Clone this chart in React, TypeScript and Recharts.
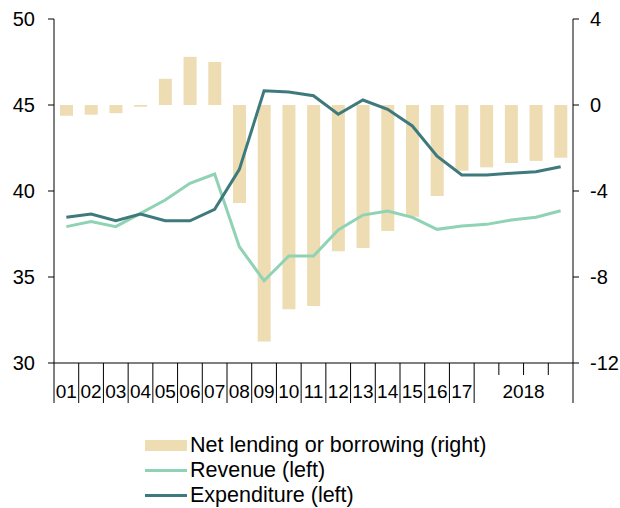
import React from 'react';
import { ComposedChart, Bar, Line, XAxis, YAxis, Legend } from 'recharts';

// periods: 2001..2017, then the four quarters of 2018
const periods = [
  '01', '02', '03', '04', '05', '06', '07', '08', '09', '10', '11',
  '12', '13', '14', '15', '16', '17', '18Q1', '18Q2', '18Q3', '18Q4',
];

const netLending = [
  -0.5, -0.45, -0.38, -0.08, 1.22, 2.24, 2.0, -4.56, -11.0, -9.5, -9.35,
  -6.8, -6.65, -5.86, -5.2, -4.23, -3.06, -2.9, -2.7, -2.6, -2.45,
];

const revenue = [
  37.93, 38.22, 37.93, 38.7, 39.48, 40.45, 40.99, 36.76, 34.78, 36.22, 36.22,
  37.73, 38.6, 38.84, 38.47, 37.77, 37.97, 38.06, 38.31, 38.47, 38.85,
];

const expenditure = [
  38.47, 38.66, 38.27, 38.66, 38.27, 38.27, 38.93, 41.26, 45.83, 45.76, 45.54,
  44.46, 45.29, 44.75, 43.78, 42.03, 40.93, 40.93, 41.03, 41.12, 41.41,
];

const leftTicks = [30, 35, 40, 45, 50];
const rightTicks = [-12, -8, -4, 0, 4];

const seriesNames = ['Net lending or borrowing (right)', 'Revenue (left)', 'Expenditure (left)'];

const data = periods.map((p, i) => ({
  period: p,
  net: netLending[i],
  revenue: revenue[i],
  expenditure: expenditure[i],
}));

const BAR_COLOR = '#eedcb3';
const REV_COLOR = '#8fd3b4';
const EXP_COLOR = '#3e7a7d';
const FONT = '"Liberation Sans", Arial, sans-serif';

const PLOT_LEFT = 54;
const PLOT_RIGHT = 573;
const BAND = (PLOT_RIGHT - PLOT_LEFT) / periods.length;

function PeriodTick(props: any) {
  const { x, y, index } = props;
  const left = x - BAND / 2;
  const right = x + BAND / 2;
  const yearly = index < 17;
  return (
    <g>
      {index <= 17 ? (
        <line x1={left} x2={left} y1={y} y2={y + 40} stroke="#000" strokeWidth={1} />
      ) : (
        <line x1={left} x2={left} y1={y} y2={y + 12} stroke="#000" strokeWidth={1} />
      )}
      {index === periods.length - 1 && (
        <line x1={right} x2={right} y1={y} y2={y + 40} stroke="#000" strokeWidth={1} />
      )}
      {yearly && (
        <text x={x} y={y + 35} textAnchor="middle" fontSize={19} fontFamily={FONT} fill="#000">
          {periods[index]}
        </text>
      )}
      {index === 19 && (
        <text x={left} y={y + 35} textAnchor="middle" fontSize={19} fontFamily={FONT} fill="#000">
          2018
        </text>
      )}
    </g>
  );
}

function LegendBox(props: any) {
  // keep the series order (recharts sorts by name otherwise)
  const items = [...(props.payload || [])].sort(
    (a: any, b: any) => seriesNames.indexOf(a.value) - seriesNames.indexOf(b.value)
  );
  return (
    <div style={{ fontFamily: FONT, fontSize: 21.5, color: '#000' }}>
      {items.map((item: any) => (
        <div key={item.value} style={{ display: 'flex', alignItems: 'center', height: 25 }}>
          <svg width={45} height={25} style={{ flexShrink: 0 }}>
            {item.type === 'rect' ? (
              <rect x={0} y={7} width={42} height={11} fill={item.color} />
            ) : (
              <line x1={0} x2={42} y1={12.5} y2={12.5} stroke={item.color} strokeWidth={3} />
            )}
          </svg>
          <span style={{ whiteSpace: 'nowrap' }}>{item.value}</span>
        </div>
      ))}
    </div>
  );
}

export default function App() {
  return (
    <div style={{ position: 'absolute', left: 0, top: 0, width: 620, height: 508, background: '#fff' }}>
      <ComposedChart
        width={620}
        height={508}
        data={data}
        margin={{ top: 19, right: 0, bottom: 100, left: 0 }}
      >
        <XAxis
          dataKey="period"
          xAxisId="x"
          interval={0}
          height={45}
          tickLine={false}
          tickSize={0}
          tickMargin={0}
          axisLine={{ stroke: '#000' }}
          tick={<PeriodTick />}
        />
        <YAxis
          yAxisId="left"
          orientation="left"
          width={54}
          domain={[30, 50]}
          ticks={leftTicks}
          tickSize={6}
          tickMargin={13}
          axisLine={{ stroke: '#000' }}
          tickLine={{ stroke: '#000' }}
          tick={{ fill: '#000', fontSize: 20, fontFamily: FONT }}
        />
        <YAxis
          yAxisId="right"
          orientation="right"
          width={47}
          domain={[-12, 4]}
          ticks={rightTicks}
          tickSize={6}
          tickMargin={11}
          axisLine={{ stroke: '#000' }}
          tickLine={{ stroke: '#000' }}
          tick={{ fill: '#000', fontSize: 20, fontFamily: FONT }}
        />
        <Legend
          layout="horizontal"
          verticalAlign="middle"
          align="center"
          content={<LegendBox />}
          wrapperStyle={{ left: 145, top: 433, width: 420, height: 75 }}
        />
        <Bar
          xAxisId="x"
          yAxisId="right"
          dataKey="net"
          name={seriesNames[0]}
          fill={BAR_COLOR}
          barSize={13}
          legendType="rect"
          isAnimationActive={false}
        />
        <Line
          xAxisId="x"
          yAxisId="left"
          dataKey="revenue"
          name={seriesNames[1]}
          type="linear"
          stroke={REV_COLOR}
          strokeWidth={3}
          dot={false}
          legendType="line"
          isAnimationActive={false}
        />
        <Line
          xAxisId="x"
          yAxisId="left"
          dataKey="expenditure"
          name={seriesNames[2]}
          type="linear"
          stroke={EXP_COLOR}
          strokeWidth={3}
          dot={false}
          legendType="line"
          isAnimationActive={false}
        />
      </ComposedChart>
    </div>
  );
}
